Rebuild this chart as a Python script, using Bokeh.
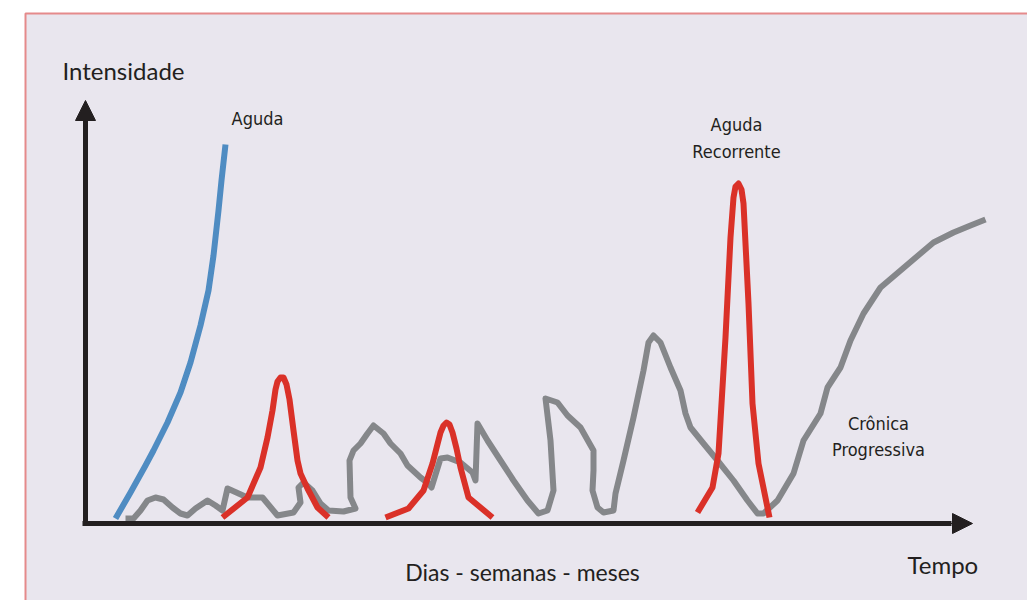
from bokeh.plotting import figure
from bokeh.models import Range1d, Arrow, NormalHead
from bokeh.core.properties import value
from bokeh.embed import file_html
from bokeh.resources import INLINE

# ---- data (time, intensity in arbitrary schematic units) ----
aguda_t = [30, 45, 60, 68, 82, 95, 105, 115, 123, 128, 133, 136, 140]
aguda_i = [4, 30, 57, 72, 100, 130, 160, 197, 232, 267, 312, 342, 378]

rec1_t = [137, 162, 175, 182, 187, 190, 192, 195, 198, 201, 204, 208, 212, 215, 222, 232, 243]
rec1_i = [5, 25, 55, 85, 112, 133, 141, 145, 145, 138, 123, 92, 62, 49, 34, 15, 5]

rec2_t = [300, 323, 338, 347, 355, 358, 361, 364, 367, 371, 375, 383, 407]
rec2_i = [5, 14, 32, 59, 90, 97, 100, 98, 90, 74, 55, 25, 5]

rec3_t = [612, 627, 633, 640, 645, 648, 650, 653, 656, 658, 663, 667, 673, 684]
rec3_i = [10, 35, 69, 185, 285, 325, 336, 339, 333, 319, 219, 119, 59, 5]

cron_t = [40, 48, 55, 62, 70, 78, 87, 95, 102, 110, 122, 130, 137, 142, 162, 177,
          192, 208, 215, 213, 218, 227, 235, 243, 258, 270, 265, 264, 268, 275, 282,
          288, 298, 305, 315, 322, 335, 343, 346, 355, 362, 375, 387, 390, 392, 402,
          415, 428, 442, 453, 462, 468, 465, 460, 472, 482, 495, 508, 508, 507, 512,
          518, 528, 530, 538, 548, 558, 563, 568, 575, 585, 595, 600, 605, 618, 632,
          648, 662, 672, 678, 692, 708, 718, 735, 742, 755, 765, 778, 795, 815, 835,
          848, 868, 885, 900]
cron_i = [4, 4, 12, 22, 25, 23, 15, 9, 7, 14, 22, 17, 12, 34, 25, 25,
          7, 10, 20, 35, 40, 32, 19, 12, 11, 14, 25, 62, 72, 79, 89,
          97, 89, 79, 69, 57, 45, 39, 35, 64, 65, 60, 50, 42, 99, 82,
          62, 42, 22, 9, 12, 32, 82, 124, 120, 107, 95, 72, 52, 32, 15,
          10, 12, 29, 62, 105, 152, 180, 187, 180, 155, 132, 109, 95, 79, 62,
          42, 22, 9, 9, 22, 49, 82, 109, 135, 155, 182, 209, 235, 252, 269,
          280, 290, 297, 303]

y_label = "Intensidade"
x_label = "Tempo"
x_sublabel = "Dias - semanas - meses"
lab_aguda = "Aguda"
lab_recorrente = ["Aguda", "Recorrente"]
lab_cronica = ["Crônica", "Progressiva"]

# ---- styles ----
BG = "#e9e6ee"
BORDER = "#e58a8b"
BLUE = "#4f8cc2"
RED = "#da3128"
GRAY = "#85878a"
INK = "#231f20"
MAIN_FONT = value("Lato")
COND_FONT = value("'DejaVu Sans Condensed', 'Roboto Condensed', 'Liberation Sans Narrow', Roboto, sans-serif")

p = figure(width=1027, height=600, output_backend="svg", toolbar_location=None,
           x_range=Range1d(-85, 942), y_range=Range1d(-78, 522),
           min_border=0, min_border_left=0, min_border_right=0,
           min_border_top=0, min_border_bottom=0)
p.axis.visible = False
p.grid.visible = False
p.outline_line_color = None
p.background_fill_color = "white"
p.border_fill_color = "white"

# panel
p.quad(left=[-60], right=[1200], top=[509], bottom=[-300],
       fill_color=BG, line_color=BORDER, line_width=2)

# curves
p.line(cron_t, cron_i, line_color=GRAY, line_width=6, line_join="round", line_cap="butt")
p.line(aguda_t, aguda_i, line_color=BLUE, line_width=6, line_join="round")
for tt, ii in [(rec1_t, rec1_i), (rec2_t, rec2_i), (rec3_t, rec3_i)]:
    p.line(tt, ii, line_color=RED, line_width=6, line_join="round")

# axes with arrows
p.segment(x0=[0, -3], y0=[-3, -1], x1=[0, 866], y1=[402, -1], line_color=INK, line_width=5)
p.add_layout(Arrow(end=NormalHead(size=20, fill_color=INK, line_color=INK, line_width=1),
                   x_start=0, y_start=380, x_end=0, y_end=422,
                   line_color=INK, line_width=1))
p.add_layout(Arrow(end=NormalHead(size=20, fill_color=INK, line_color=INK, line_width=1),
                   x_start=850, y_start=-1, x_end=887, y_end=-1,
                   line_color=INK, line_width=1))

# texts
p.text(x=[-23], y=[452], text=[y_label], text_font=MAIN_FONT, text_font_size="24px",
       text_color=INK, text_baseline="alphabetic", text_align="left")
p.text(x=[822], y=[-42], text=[x_label], text_font=MAIN_FONT, text_font_size="24px",
       text_color=INK, text_baseline="alphabetic", text_align="left")
p.text(x=[437], y=[-49], text=[x_sublabel], text_font=MAIN_FONT, text_font_size="23px",
       text_color=INK, text_baseline="alphabetic", text_align="center")
p.text(x=[172], y=[404], text=[lab_aguda], text_font=COND_FONT, text_font_size="18px",
       text_color=INK, text_baseline="alphabetic", text_align="center")
p.text(x=[651, 651], y=[398, 371], text=lab_recorrente, text_font=COND_FONT,
       text_font_size="18px", text_color=INK, text_baseline="alphabetic", text_align="center")
p.text(x=[793, 793], y=[99, 73], text=lab_cronica, text_font=COND_FONT,
       text_font_size="18px", text_color=INK, text_baseline="alphabetic", text_align="center")

open("out.html", "w").write(file_html(p, INLINE))
